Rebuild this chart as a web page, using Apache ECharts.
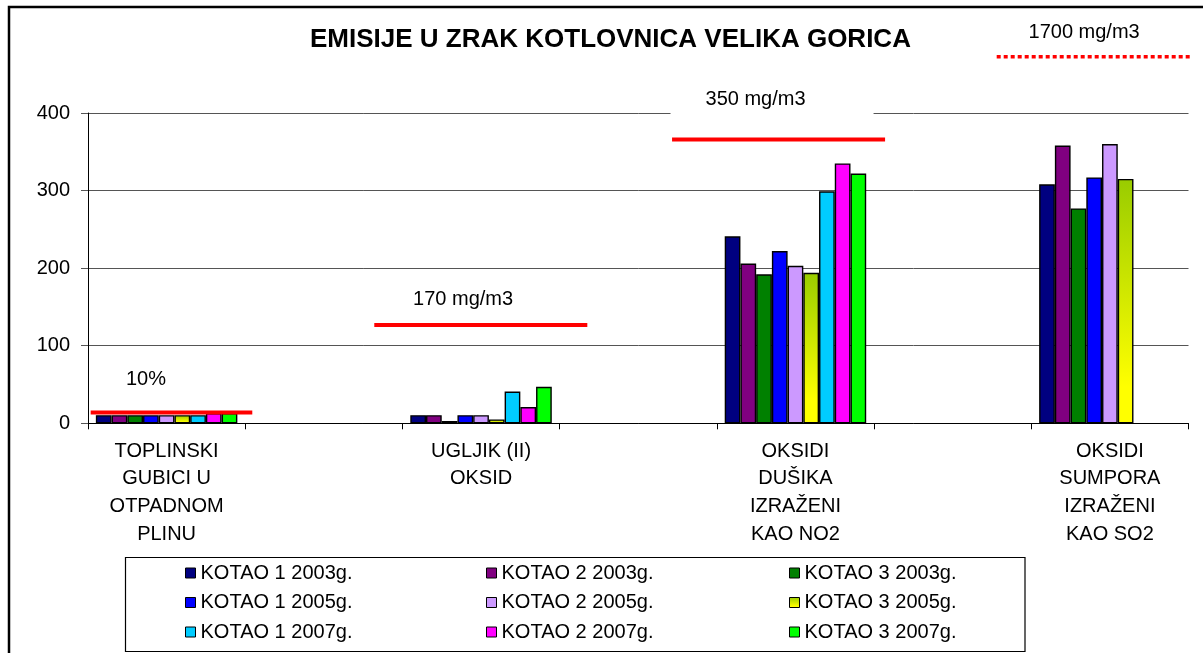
<!DOCTYPE html>
<html>
<head>
<meta charset="utf-8">
<title>Emisije u zrak kotlovnica Velika Gorica</title>
<script src="https://cdn.jsdelivr.net/npm/echarts@6/dist/echarts.min.js"></script>
<style>
  html, body { margin: 0; padding: 0; background: #fff; }
  #chart { width: 1203px; height: 653px; }
</style>
</head>
<body>
<div id="chart"></div>
<script>
// kategorije (prazne kategorije su razmaci izmedu grupa)
var categories = [
  'TOPLINSKI\nGUBICI U\nOTPADNOM\nPLINU', '',
  'UGLJIK (II)\nOKSID', '',
  'OKSIDI\nDUŠIKA\nIZRAŽENI\nKAO NO2', '',
  'OKSIDI\nSUMPORA\nIZRAŽENI\nKAO SO2'
];

var seriesNames = [
  'KOTAO 1 2003g.', 'KOTAO 2 2003g.', 'KOTAO 3 2003g.',
  'KOTAO 1 2005g.', 'KOTAO 2 2005g.', 'KOTAO 3 2005g.',
  'KOTAO 1 2007g.', 'KOTAO 2 2007g.', 'KOTAO 3 2007g.'
];

// vrijednosti po kotlu i godini
var kotao1_2003 = [10.5, null, 10.5, null, 241, null, 308];
var kotao2_2003 = [10.5, null, 10.5, null, 206, null, 358];
var kotao3_2003 = [10.5, null, 3, null, 192, null, 277];
var kotao1_2005 = [10.5, null, 10.5, null, 222, null, 317];
var kotao2_2005 = [10.5, null, 10.5, null, 203, null, 360];
var kotao3_2005 = [10.5, null, 5, null, 194, null, 315];
var kotao1_2007 = [10.5, null, 41, null, 299, null, null];
var kotao2_2007 = [13, null, 21, null, 335, null, null];
var kotao3_2007 = [13, null, 47, null, 322, null, null];

// granicne vrijednosti (crvene linije) - razina i raspon na osi kategorija
var limitNames = ['10%', '170 mg/m3', '350 mg/m3', '1700 mg/m3'];
var limitLevel = [13.9, 126.7, 366, 472.6];
var limitFrom = [0.017, 1.821, 3.715, 5.78];
var limitTo = [1.045, 3.176, 5.07, 7.093];
var limitLabelX = [0.369, 2.386, 4.351, 6.336];
var limitLabelY = [57.1, 159, 416.8, 503.2];

var allData = [kotao1_2003, kotao2_2003, kotao3_2003, kotao1_2005, kotao2_2005,
  kotao3_2005, kotao1_2007, kotao2_2007, kotao3_2007];

var font = 'Liberation Sans, Arial, sans-serif';
var yellowFill = new echarts.graphic.LinearGradient(0, 0, 0, 1, [
  { offset: 0, color: '#99CC00' },
  { offset: 0.85, color: '#FFFF00' },
  { offset: 1, color: '#FFFF00' }
]);
var colors = ['#000080', '#800080', '#008000', '#0000FF', '#CC99FF',
  yellowFill, '#00CCFF', '#FF00FF', '#00FF00'];

var myChart = echarts.init(document.getElementById('chart'));

var series = allData.map(function (d, i) {
  return {
    name: seriesNames[i],
    type: 'bar',
    data: d,
    barGap: '0%',
    barCategoryGap: '10%',
    itemStyle: { color: colors[i], borderColor: '#000', borderWidth: 1.4 }
  };
});

// crvene linije
limitNames.forEach(function (n, i) {
  series.push({
    name: n,
    type: 'line',
    xAxisIndex: 1,
    symbol: 'none',
    clip: false,
    silent: true,
    z: 5,
    lineStyle: {
      color: '#FF0000',
      width: i === 3 ? 3.5 : 4,
      type: i === 3 ? [4, 3] : 'solid'
    },
    data: [[limitFrom[i], limitLevel[i]], [limitTo[i], limitLevel[i]]]
  });
});

// natpisi uz linije
series.push({
  type: 'scatter',
  xAxisIndex: 1,
  symbolSize: 0.1,
  clip: false,
  silent: true,
  z: 6,
  itemStyle: { color: '#000' },
  label: {
    show: true,
    position: 'inside',
    formatter: '{b}',
    fontSize: 20,
    fontFamily: font,
    color: '#000',
    opacity: 1
  },
  data: limitNames.map(function (n, i) {
    var item = { name: n, value: [limitLabelX[i], limitLabelY[i]] };
    if (i === 2) {
      item.label = { backgroundColor: '#fff', padding: [4, 68, 4, 35] };
    }
    return item;
  })
});

var legendLeft = [185, 486, 789];

var option = {
  animation: false,
  textStyle: { fontFamily: font },
  title: {
    text: 'EMISIJE U ZRAK KOTLOVNICA VELIKA GORICA',
    left: 310,
    top: 27,
    padding: 0,
    textStyle: { fontSize: 26, fontWeight: 'bold', color: '#000', fontFamily: font }
  },
  legend: legendLeft.map(function (l, c) {
    return {
      orient: 'vertical',
      left: l,
      top: 563,
      padding: 0,
      icon: 'rect',
      itemWidth: 10,
      itemHeight: 10,
      itemGap: 9.5,
      selectedMode: false,
      data: [seriesNames[c], seriesNames[c + 3], seriesNames[c + 6]],
      itemStyle: { borderColor: '#000', borderWidth: 1 },
      textStyle: { fontSize: 20, lineHeight: 20, color: '#000', fontFamily: font }
    };
  }),
  grid: { left: 88, right: 14.5, top: 113, bottom: 229.7, containLabel: false },
  xAxis: [
    {
      type: 'category',
      data: categories,
      boundaryGap: true,
      axisLine: { lineStyle: { color: '#000', width: 1 } },
      axisTick: { show: true, length: 6, interval: 0, lineStyle: { color: '#000' } },
      axisLabel: { interval: 0, fontSize: 20, lineHeight: 27.7, margin: 14, color: '#000', fontFamily: font },
      splitLine: { show: false }
    },
    { type: 'value', min: 0, max: 7, show: false }
  ],
  yAxis: {
    type: 'value',
    min: 0,
    max: 400,
    interval: 100,
    axisLine: { show: true, lineStyle: { color: '#000' } },
    axisTick: { show: true, length: 7, lineStyle: { color: '#555' } },
    axisLabel: { fontSize: 20, margin: 18, color: '#000', fontFamily: font },
    splitLine: { lineStyle: { color: '#555', width: 1 } }
  },
  graphic: [
    {
      type: 'rect',
      silent: true,
      z: 0,
      shape: { x: 9, y: 7, width: 1300, height: 800 },
      style: { fill: 'transparent', stroke: '#000', lineWidth: 2.5 }
    },
    {
      type: 'rect',
      silent: true,
      z: 1,
      shape: { x: 125.5, y: 557.5, width: 899.5, height: 94 },
      style: { fill: '#fff', stroke: '#000', lineWidth: 1.2 }
    }
  ],
  series: series
};

myChart.setOption(option);
</script>
</body>
</html>
